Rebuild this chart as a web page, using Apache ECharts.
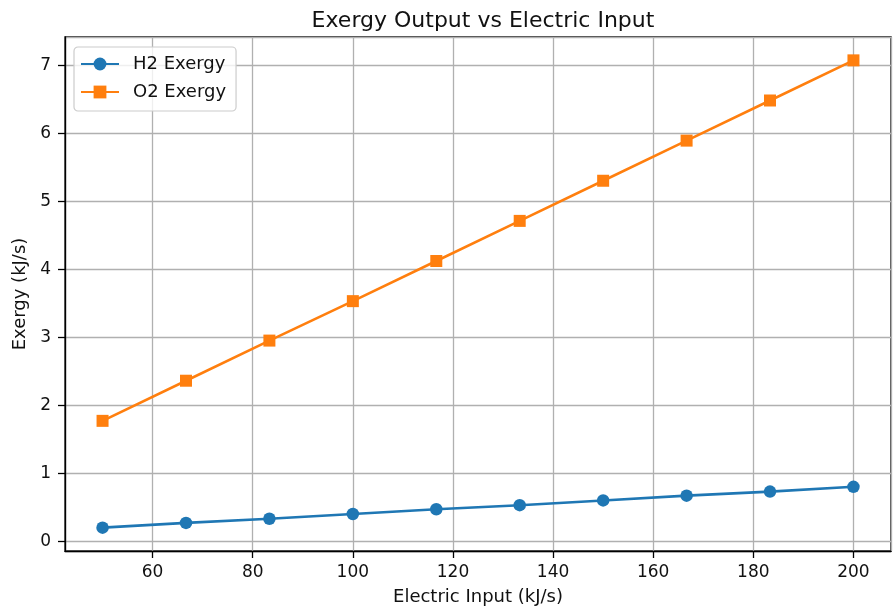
<!DOCTYPE html>
<html>
<head>
<meta charset="utf-8">
<script src="https://cdn.jsdelivr.net/npm/echarts@6/dist/echarts.min.js"></script>
<style>html,body{margin:0;padding:0;background:#fff}#c{width:893px;height:613px}</style>
</head>
<body>
<div id="c"></div>
<script>
var electricInput = [50, 66.67, 83.33, 100, 116.67, 133.33, 150, 166.67, 183.33, 200];
var h2Exergy = [0.20, 0.27, 0.33, 0.40, 0.47, 0.53, 0.60, 0.67, 0.73, 0.80];
var o2Exergy = [1.77, 2.36, 2.95, 3.53, 4.12, 4.71, 5.30, 5.89, 6.48, 7.07];
var seriesNames = ['H2 Exergy', 'O2 Exergy'];
var titleText = 'Exergy Output vs Electric Input';
var xLabel = 'Electric Input (kJ/s)';
var yLabel = 'Exergy (kJ/s)';

function pairs(xs, ys) { return xs.map(function (x, i) { return [x, ys[i]]; }); }

var font = 'DejaVu Sans';
var chart = echarts.init(document.getElementById('c'), null, {renderer: 'canvas'});
chart.setOption({
  animation: false,
  backgroundColor: '#fff',
  title: {
    text: titleText, left: 478, top: 5, textAlign: 'center',
    textStyle: {fontFamily: font, fontSize: 22, fontWeight: 'normal', color: '#111'}
  },
  grid: {left: 65, right: 2, top: 37, bottom: 62, show: true, borderColor: '#000', borderWidth: 1.3, backgroundColor: 'transparent'},
  legend: {
    orient: 'vertical', left: 74, top: 47,
    data: seriesNames,
    itemWidth: 38, itemHeight: 16, itemGap: 10,
    padding: [8, 10, 10, 6],
    borderColor: '#cccccc', borderWidth: 1.2, borderRadius: 4,
    backgroundColor: 'rgba(255,255,255,0.8)',
    textStyle: {fontFamily: font, fontSize: 18, color: '#111', padding: [0, 0, 0, 9]}
  },
  xAxis: {
    type: 'value', min: 42.5, max: 207.5, minInterval: 20, maxInterval: 20,
    name: xLabel, nameLocation: 'middle', nameGap: 37,
    nameTextStyle: {fontFamily: font, fontSize: 18, color: '#111'},
    axisLine: {show: true, onZero: false, lineStyle: {color: '#000', width: 1.3}},
    axisTick: {show: true, length: 7, lineStyle: {color: '#000', width: 1.3}},
    axisLabel: {fontFamily: font, fontSize: 17, color: '#111', margin: 13, showMinLabel: false, showMaxLabel: false},
    splitLine: {show: true, lineStyle: {color: '#b0b0b0', width: 1.3}}
  },
  yAxis: {
    type: 'value', min: -0.1435, max: 7.4135, minInterval: 1, maxInterval: 1,
    name: yLabel, nameLocation: 'middle', nameGap: 36,
    nameTextStyle: {fontFamily: font, fontSize: 18, color: '#111'},
    axisLine: {show: true, onZero: false, lineStyle: {color: '#000', width: 1.3}},
    axisTick: {show: true, length: 7, lineStyle: {color: '#000', width: 1.3}},
    axisLabel: {fontFamily: font, fontSize: 17, color: '#111', margin: 14, showMinLabel: false, showMaxLabel: false},
    splitLine: {show: true, lineStyle: {color: '#b0b0b0', width: 1.3}}
  },
  series: [
    {
      name: seriesNames[0], type: 'line', data: pairs(electricInput, h2Exergy),
      symbol: 'circle', symbolSize: 12.5,
      itemStyle: {color: '#1f77b4'}, lineStyle: {color: '#1f77b4', width: 2.6}
    },
    {
      name: seriesNames[1], type: 'line', data: pairs(electricInput, o2Exergy),
      symbol: 'rect', symbolSize: 12,
      itemStyle: {color: '#ff7f0e'}, lineStyle: {color: '#ff7f0e', width: 2.6}
    }
  ]
});
</script>
</body>
</html>
